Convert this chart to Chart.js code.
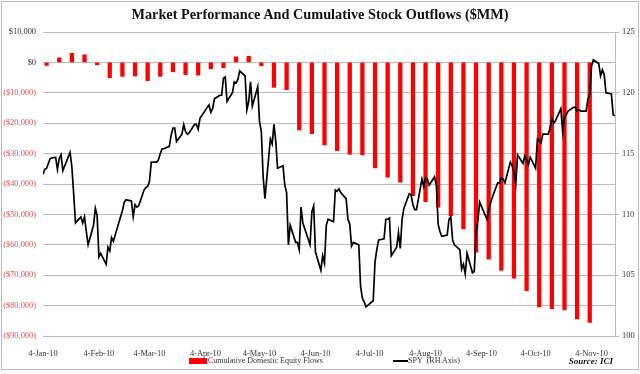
<!DOCTYPE html>
<html>
<head>
<meta charset="utf-8">
<script src="https://cdn.jsdelivr.net/npm/chart.js@4.4.1/dist/chart.umd.min.js"></script>
<style>
  html, body { margin: 0; padding: 0; background: #fff; }
  #wrap { position: relative; width: 640px; height: 374px; font-family: "Liberation Serif", "Times New Roman", serif; }
  #frame { position: absolute; left: 1px; top: 1px; width: 636px; height: 367px; border: 1px solid #b9b9b9; }
  #title { position: absolute; left: 0; top: 6px; width: 640px; text-align: center; font-weight: bold; font-size: 14.3px; color: #111; }
  .lg { position: absolute; font-size: 8px; color: #333; line-height: 10px; white-space: nowrap; }
  #src { position: absolute; right: 27px; top: 356px; font-size: 9px; font-weight: bold; font-style: italic; color: #111; }
  canvas { position: absolute; left: 0; top: 0; }
</style>
</head>
<body>
<div id="wrap">
  <canvas id="c" width="640" height="374"></canvas>
  <div id="frame"></div>
  <div id="title">Market Performance And Cumulative Stock Outflows ($MM)</div>
  <div class="lg" style="left:189px;top:358px;width:18px;height:6px;background:#ff0000"></div>
  <div class="lg" style="left:208px;top:356px">Cumulative Domestic Equity Flows</div>
  <div class="lg" style="left:393px;top:360px;width:15px;height:2px;background:#000"></div>
  <div class="lg" style="left:408px;top:356px">SPY&nbsp; (RH Axis)</div>
  <div id="src">Source: ICI</div>
</div>
<script>
// x tick labels (4th of each month) and their dates
const tickLabels = ["4-Jan-10", "4-Feb-10", "4-Mar-10", "4-Apr-10", "4-May-10", "4-Jun-10", "4-Jul-10", "4-Aug-10", "4-Sep-10", "4-Oct-10", "4-Nov-10"];
const tickDates = ["01-04", "02-04", "03-04", "04-04", "05-04", "06-04", "07-04", "08-04", "09-04", "10-04", "11-04"];
const axisEnd = "11-17";

// weekly cumulative domestic equity flows ($MM)
const flowDates = ["01-06", "01-13", "01-20", "01-27", "02-03", "02-10", "02-17", "02-24", "03-03", "03-10", "03-17", "03-24", "03-31",
  "04-07", "04-14", "04-21", "04-28", "05-05", "05-12", "05-19", "05-26", "06-02", "06-09", "06-16", "06-23", "06-30",
  "07-07", "07-14", "07-21", "07-28", "08-04", "08-11", "08-18", "08-25", "09-01", "09-08", "09-15", "09-22", "09-29",
  "10-06", "10-13", "10-20", "10-27", "11-03"];
const flowValues = [-1000, 1500, 3000, 2500, -800, -5050, -4600, -4500, -6000, -4600, -3100, -4050, -4200,
  -2100, -1750, 1850, 2050, -1100, -8200, -9000, -22230, -23450, -27160, -29030, -30220, -30440,
  -34710, -37770, -39410, -43810, -45780, -47620, -50380, -54750, -62400, -64700, -68440, -70940, -75110,
  -80460, -81020, -81440, -84400, -85520];

// SPY daily closes, trading days per month (month, days)
const spyDays = [
  ["01", [4, 5, 6, 7, 8, 11, 12, 13, 14, 15, 19, 20, 21, 22, 25, 26, 27, 28, 29]],
  ["02", [1, 2, 3, 4, 5, 8, 9, 10, 11, 12, 16, 17, 18, 19, 22, 23, 24, 25, 26]],
  ["03", [1, 2, 3, 4, 5, 8, 9, 10, 11, 12, 15, 16, 17, 18, 19, 22, 23, 24, 25, 26, 29, 30, 31]],
  ["04", [1, 5, 6, 7, 8, 9, 12, 13, 14, 15, 16, 19, 20, 21, 22, 23, 26, 27, 28, 29, 30]],
  ["05", [3, 4, 5, 6, 7, 10, 11, 12, 13, 14, 17, 18, 19, 20, 21, 24, 25, 26, 27, 28]],
  ["06", [1, 2, 3, 4, 7, 8, 9, 10, 11, 14, 15, 16, 17, 18, 21, 22, 23, 24, 25, 28, 29, 30]],
  ["07", [1, 2, 6, 7, 8, 9, 12, 13, 14, 15, 16, 19, 20, 21, 22, 23, 26, 27, 28, 29, 30]],
  ["08", [2, 3, 4, 5, 6, 9, 10, 11, 12, 13, 16, 17, 18, 19, 20, 23, 24, 25, 26, 27, 30, 31]],
  ["09", [1, 2, 3, 7, 8, 9, 10, 13, 14, 15, 16, 17, 20, 21, 22, 23, 24, 27, 28, 29, 30]],
  ["10", [1, 4, 5, 6, 7, 8, 11, 12, 13, 14, 15, 18, 19, 20, 21, 22, 25, 26, 27, 28, 29]],
  ["11", [1, 2, 3, 4, 5, 8, 9, 10, 11, 12, 15, 16, 17]]
];
const spyClose = [
  113.3, 113.7, 113.8, 114.2, 114.6, 114.7, 113.7, 114.6, 114.9, 113.6, 115.1, 113.9, 111.7, 109.3, 109.8, 109.3, 109.8, 108.6, 107.5,
  109.1, 110.5, 109.9, 106.5, 106.8, 105.9, 107.3, 107.0, 108.1, 107.8, 109.8, 110.3, 111.0, 111.2, 111.1, 109.8, 110.8, 110.6, 110.7,
  112.0, 112.2, 112.3, 112.7, 114.3, 114.3, 114.5, 115.0, 115.4, 115.4, 115.6, 116.5, 117.1, 117.1, 116.0, 116.6, 117.4, 116.8, 116.6, 116.7, 117.4, 117.4, 117.0,
  117.9, 118.8, 119.0, 118.4, 118.7, 119.5, 119.8, 119.8, 121.2, 121.3, 119.3, 120.0, 120.9, 120.8, 121.1, 121.8, 121.4, 118.6, 119.3, 120.9, 118.9,
  120.5, 117.6, 116.8, 113.1, 111.3, 116.2, 115.8, 117.4, 116.0, 113.8, 114.0, 112.4, 111.8, 107.5, 109.1, 107.7, 107.7, 107.1, 110.6, 109.3,
  107.5, 110.2, 110.7, 106.9, 105.4, 106.6, 106.0, 109.1, 109.6, 109.4, 112.0, 111.9, 112.1, 111.8, 111.3, 109.6, 109.2, 107.4, 107.7, 107.5, 104.1, 103.1,
  102.8, 102.4, 102.9, 106.1, 107.1, 107.9, 108.0, 109.6, 109.6, 109.7, 106.6, 107.3, 108.5, 107.2, 109.6, 110.5, 111.7, 111.6, 110.8, 110.4, 110.4,
  112.9, 112.3, 113.0, 112.9, 112.4, 113.1, 112.4, 109.2, 108.6, 108.2, 108.3, 109.6, 109.8, 107.9, 107.5, 107.1, 105.5, 105.9, 105.1, 106.8, 105.2, 105.3,
  108.5, 109.5, 111.0, 109.6, 110.3, 110.9, 111.4, 112.6, 112.6, 113.0, 112.9, 112.6, 114.3, 114.0, 113.5, 112.5, 114.9, 114.2, 114.8, 114.5, 114.1,
  114.7, 113.8, 116.2, 116.1, 115.9, 116.6, 116.6, 117.1, 117.9, 117.5, 117.7, 118.7, 116.8, 118.0, 118.2, 118.5, 118.8, 118.8, 118.5, 118.6, 118.5,
  118.5, 119.5, 119.9, 122.2, 122.7, 122.4, 121.4, 121.9, 121.5, 120.0, 119.9, 118.2, 118.1
];

(function () {
  // days since 4-Jan-2010
  const dayOf = (md) => { const [m, d] = md.split("-").map(Number); return (Date.UTC(2010, m - 1, d) - Date.UTC(2010, 0, 4)) / 864e5; };
  const spyDates = spyDays.flatMap(([m, days]) => days.map((d) => m + "-" + String(d).padStart(2, "0")));
  const spyPts = spyDates.map((md, i) => ({ x: dayOf(md), y: spyClose[i] }));
  const flowPts = flowDates.map((md, i) => ({ x: dayOf(md), y: flowValues[i] }));
  const tickDays = tickDates.map(dayOf);
  const FONT = { family: "'Liberation Serif', 'Times New Roman', serif", size: 8.4 };
  const money = (v) => (v < 0 ? "($" + Math.abs(v).toLocaleString("en-US") + ")" : "$" + v.toLocaleString("en-US"));

  new Chart(document.getElementById("c"), {
    type: "bar",
    data: { datasets: [
      { type: "line", label: "SPY (RH Axis)", data: spyPts, yAxisID: "y2", borderColor: "#000", borderWidth: 1.7, pointRadius: 0, tension: 0 },
      { type: "bar", label: "Cumulative Domestic Equity Flows", data: flowPts, yAxisID: "y", backgroundColor: "#ff0000", barThickness: 3.6 }
    ] },
    options: {
      responsive: false, animation: false, events: [],
      layout: { padding: { top: 32, left: 0, right: 0, bottom: 0 } },
      plugins: { legend: { display: false }, tooltip: { enabled: false } },
      scales: {
        x: { type: "linear", min: 0, max: dayOf(axisEnd), offset: false,
          grid: { display: false }, border: { display: false },
          afterBuildTicks: (s) => { s.ticks = tickDays.map((v) => ({ value: v })); },
          afterFit: (s) => { s.height = 38; },
          ticks: { autoSkip: false, maxRotation: 0, padding: 5, color: "#333", font: FONT, callback: (v, i) => tickLabels[i] } },
        y: { position: "left", min: -90000, max: 10000,
          grid: { color: "#bcbcbc", lineWidth: 1, drawTicks: false }, border: { display: false },
          afterFit: (s) => { s.width = 43; },
          ticks: { stepSize: 10000, padding: 7, font: FONT, callback: money,
            color: (ctx) => (ctx.tick && ctx.tick.value < 0 ? "#f04a4a" : "#333") } },
        y2: { position: "right", min: 100, max: 125,
          grid: { drawOnChartArea: false, color: "#bcbcbc", tickLength: 4 }, border: { display: true, color: "#bcbcbc" },
          afterFit: (s) => { s.width = 25; },
          ticks: { stepSize: 5, padding: 3, color: "#333", font: FONT } }
      }
    }
  });
})();
</script>
</body>
</html>
